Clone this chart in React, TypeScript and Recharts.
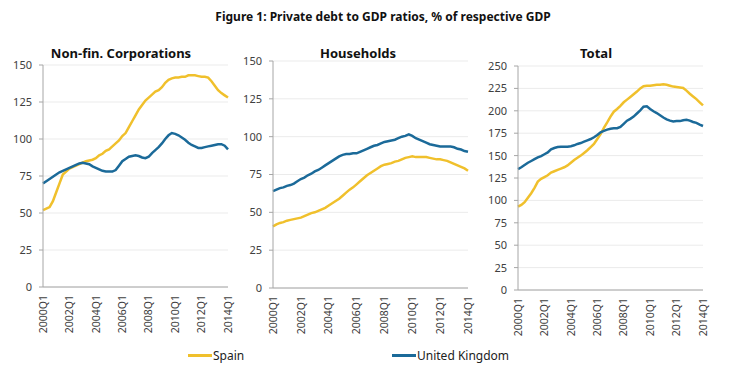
import { CartesianGrid, Line, LineChart, XAxis, YAxis } from "recharts";

// 2000Q1 .. 2014Q1
const years = [2000, 2001, 2002, 2003, 2004, 2005, 2006, 2007, 2008, 2009, 2010, 2011, 2012, 2013, 2014];
const quarters = years.flatMap((y) => (y === 2014 ? [`${y}Q1`] : [`${y}Q1`, `${y}Q2`, `${y}Q3`, `${y}Q4`]));
const xTicks = ["2000Q1", "2002Q1", "2004Q1", "2006Q1", "2008Q1", "2010Q1", "2012Q1", "2014Q1"];

const spainCorp = [
  52, 53, 54, 58, 64, 70, 76, 78, 80, 81, 82, 83, 84, 85, 85.5, 86, 87, 89, 90, 92, 93, 95, 97, 99, 102, 104, 108, 112,
  116, 120, 123, 126, 128, 130, 132, 133, 135, 138, 140, 141, 141.5, 141.5, 142, 142, 143, 143, 143, 142.5, 142, 142,
  141.5, 139, 136, 133, 131, 129.5, 128,
];
const ukCorp = [
  70, 71.5, 73, 74.5, 76, 77.5, 78.5, 79.5, 80.5, 81.5, 82.5, 83.5, 84, 83.5, 83, 81.5, 80.5, 79.5, 78.5, 78, 78, 78, 79,
  82, 85, 86.5, 88, 88.5, 89, 88.5, 87.5, 87, 88, 90.5, 92.5, 94.5, 97, 100, 102.5, 104, 103.5, 102.5, 101, 99.5, 97.5,
  96, 95, 94, 94, 94.5, 95, 95.5, 96, 96.5, 96.5, 95.5, 93,
];
const spainHouse = [
  40.7, 42, 43, 43.5, 44.5, 45, 45.5, 46, 46.5, 47.5, 48.5, 49.5, 50, 51, 52, 53, 54.5, 56, 57.5, 59, 61, 63, 65, 66.5,
  68.5, 70.5, 72.5, 74.5, 76, 77.5, 79, 80.5, 81.5, 82, 82.5, 83.5, 84, 85, 86, 86.5, 87, 86.5, 86.5, 86.5, 86.5, 86,
  85.5, 85, 85, 84.5, 84, 83, 82, 81, 80, 79, 77.5,
];
const ukHouse = [
  64, 65, 66, 66.5, 67.5, 68, 69, 70.5, 72, 73, 74.5, 75.5, 77, 78, 79.5, 81, 82.5, 84, 85.5, 87, 88, 88.5, 88.5, 89, 89,
  90, 91, 92, 93, 94, 94.5, 95.5, 96.5, 97, 97.5, 98, 99, 100, 100.5, 101.5, 100.5, 99, 98, 97, 96, 95, 94.5, 94, 93.5,
  93.5, 93.5, 93.5, 93, 92, 91.5, 90.5, 90,
];
const spainTotal = [
  93, 95, 98, 103, 108, 114, 121, 124, 126, 128, 131, 132.5, 134, 135.5, 137, 139, 142, 145, 147.5, 150, 153, 156, 159.5,
  163, 168.5, 174, 181, 187, 193.5, 199, 202, 205.5, 209.5, 212.5, 215.5, 218.5, 221.5, 225, 227.5, 228, 228, 228.5,
  229, 229, 229.5, 229, 228, 227, 226.5, 226, 225.5, 222.5, 219, 216, 213, 209.5, 206,
];
const ukTotal = [
  135, 137, 139.5, 142, 144, 146, 148, 149.5, 151.5, 153.5, 157, 158.5, 159.5, 160, 160, 160, 160.5, 161.5, 163, 164,
  165.5, 167, 168.5, 170.5, 173, 176, 177.5, 179, 180, 180.5, 180.5, 182, 185.5, 189, 191, 193.5, 197, 200.5, 204.5,
  205, 202, 199.5, 197.5, 195, 192.5, 190.5, 189, 188, 188.5, 188.5, 189.5, 190, 189, 187.5, 186.5, 184.5, 183,
];

const ticks150 = [0, 25, 50, 75, 100, 125, 150];
const ticks250 = [0, 25, 50, 75, 100, 125, 150, 175, 200, 225, 250];

const SPAIN = "#F0C02C";
const UK = "#1B6A99";
const FONT = "'Noto Sans', sans-serif";
const Y_W = 45;
const TOP = 10;
const X_H = 60;

function QuarterTick({ x, y, payload }: any) {
  return (
    <g transform={`translate(${x},${y})`}>
      <text transform="rotate(-90)" textAnchor="end" dy="0.35em" fill="#404040" fontSize={10.5} fontFamily={FONT}>
        {payload.value}
      </text>
    </g>
  );
}

interface PanelProps {
  title: string;
  spain: number[];
  uk: number[];
  ticks: number[];
  box: { left: number; right: number; top: number; bottom: number };
  titleX: number;
}

function Panel({ title, spain, uk, ticks, box, titleX }: PanelProps) {
  const rows = quarters.map((q, i) => ({ q, spain: spain[i], uk: uk[i] }));
  const plotW = box.right - box.left;
  const plotH = box.bottom - box.top;
  return (
    <>
      <div
        style={{
          position: "absolute",
          left: titleX - 100,
          width: 200,
          top: 44,
          textAlign: "center",
          fontFamily: FONT,
          fontWeight: 700,
          fontSize: 13,
          color: "#111",
        }}
      >
        {title}
      </div>
      <div style={{ position: "absolute", left: box.left - Y_W, top: box.top - TOP }}>
        <LineChart
          width={plotW + Y_W + 10}
          height={plotH + TOP + X_H}
          data={rows}
          margin={{ top: TOP, right: 10, bottom: 0, left: 0 }}
        >
          <CartesianGrid vertical={false} stroke="#EBEBEB" />
          <XAxis
            dataKey="q"
            scale="point"
            ticks={xTicks}
            interval={0}
            height={X_H}
            tickLine={false}
            axisLine={{ stroke: "#A6A6A6" }}
            tick={<QuarterTick />}
          />
          <YAxis
            width={Y_W}
            domain={[0, ticks[ticks.length - 1]]}
            ticks={ticks}
            interval={0}
            tickSize={4}
            tickMargin={7}
            axisLine={{ stroke: "#A6A6A6" }}
            tickLine={{ stroke: "#A6A6A6" }}
            tick={{ fill: "#404040", fontSize: 11, fontFamily: FONT }}
          />
          <Line dataKey="spain" stroke={SPAIN} strokeWidth={2.5} dot={false} isAnimationActive={false} />
          <Line dataKey="uk" stroke={UK} strokeWidth={2.5} dot={false} isAnimationActive={false} />
        </LineChart>
      </div>
    </>
  );
}

function LegendItem({ x, color, label }: { x: number; color: string; label: string }) {
  return (
    <div style={{ position: "absolute", left: x, top: 347, display: "flex", alignItems: "center" }}>
      <span style={{ display: "inline-block", width: 24, height: 2.5, background: color }} />
      <span style={{ fontFamily: FONT, fontSize: 12, color: "#222", marginLeft: 1 }}>{label}</span>
    </div>
  );
}

export default function App() {
  return (
    <div style={{ position: "absolute", left: 0, top: 0, width: 730, height: 373, background: "#fff", overflow: "hidden" }}>
      <div
        style={{
          position: "absolute",
          left: 0,
          width: 766,
          top: 8,
          textAlign: "center",
          fontFamily: FONT,
          fontWeight: 700,
          fontSize: 12,
          color: "#111",
        }}
      >
        Figure 1: Private debt to GDP ratios, % of respective GDP
      </div>
      <Panel
        title="Non-fin. Corporations"
        spain={spainCorp}
        uk={ukCorp}
        ticks={ticks150}
        box={{ left: 43, right: 228, top: 65, bottom: 287 }}
        titleX={121}
      />
      <Panel
        title="Households"
        spain={spainHouse}
        uk={ukHouse}
        ticks={ticks150}
        box={{ left: 273, right: 468, top: 61, bottom: 288 }}
        titleX={358}
      />
      <Panel
        title="Total"
        spain={spainTotal}
        uk={ukTotal}
        ticks={ticks250}
        box={{ left: 518, right: 703, top: 66, bottom: 290 }}
        titleX={596}
      />
      <LegendItem x={188} color={SPAIN} label="Spain" />
      <LegendItem x={392} color={UK} label="United Kingdom" />
    </div>
  );
}
